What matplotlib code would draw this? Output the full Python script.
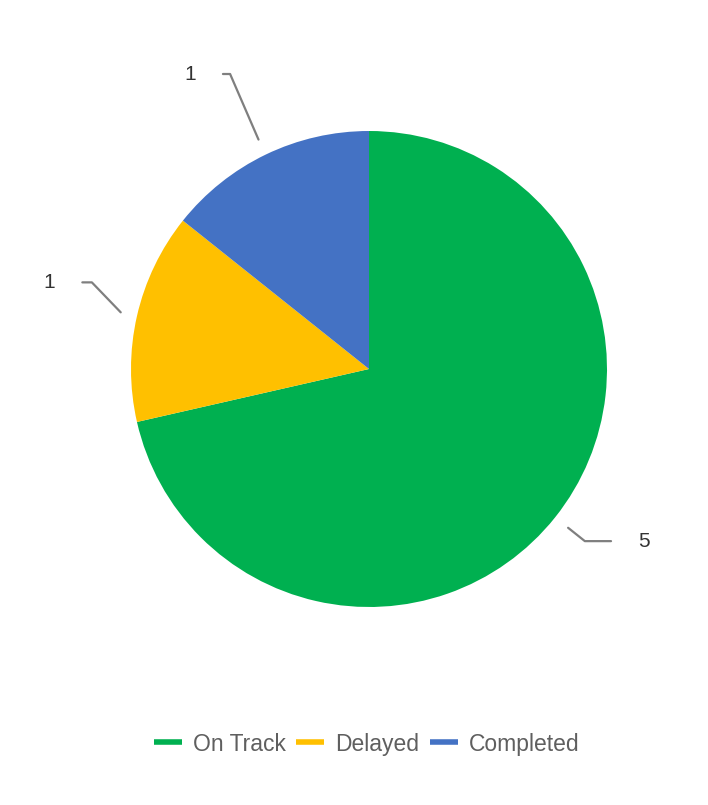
import numpy as np
import matplotlib.pyplot as plt
from matplotlib.lines import Line2D

# Project status counts
statuses = ["On Track", "Delayed", "Completed"]
counts = [5, 1, 1]
colors = ["#00B050", "#FFC000", "#4472C4"]

# Leader line elbows: (radius, angle offset in degrees, horizontal run)
elbows = [(1.16, 0.0, 0.11), (1.22, -4.5, -0.04), (1.37, -0.5, -0.03)]

plt.rcParams["font.family"] = ["Liberation Sans", "DejaVu Sans"]

W, H = 708, 805
fig = plt.figure(figsize=(W / 100, H / 100), dpi=100)
cx, cy, r = 369, 369, 238
ax = fig.add_axes([(cx - r) / W, (H - cy - r) / H, 2 * r / W, 2 * r / H])

wedges, _ = ax.pie(counts, colors=colors, startangle=90, counterclock=False,
                   radius=1.0, wedgeprops=dict(linewidth=0))
ax.set_xlim(-1, 1)
ax.set_ylim(-1, 1)
ax.set_aspect("equal")
ax.axis("off")

# Value labels with elbow leader lines
for w, n, (er, da, run) in zip(wedges, counts, elbows):
    mid = np.deg2rad((w.theta1 + w.theta2) / 2)
    x0, y0 = 1.07 * np.cos(mid), 1.07 * np.sin(mid)
    ang = mid + np.deg2rad(da)
    x1, y1 = er * np.cos(ang), er * np.sin(ang)
    x2 = x1 + run
    ax.plot([x0, x1, x2], [y0, y1, y1], color="#7f7f7f", lw=1.6,
            solid_capstyle="round", clip_on=False)
    gap = 0.115
    if run > 0:
        ax.text(x2 + gap, y1, str(n), ha="left", va="center",
                fontsize=15, color="#333333")
    else:
        ax.text(x2 - gap, y1, str(n), ha="right", va="center",
                fontsize=15, color="#333333")

handles = [Line2D([0], [0], color=c, lw=4, solid_capstyle="butt") for c in colors]
fig.legend(handles, statuses, loc="center", bbox_to_anchor=(0.518, 1 - 744 / H),
           ncol=3, frameon=False, fontsize=16.5, handlelength=1.22,
           handletextpad=0.5, columnspacing=0.45, labelcolor="#5f5f5f")

fig.savefig("out.png", dpi=100, facecolor="white")
